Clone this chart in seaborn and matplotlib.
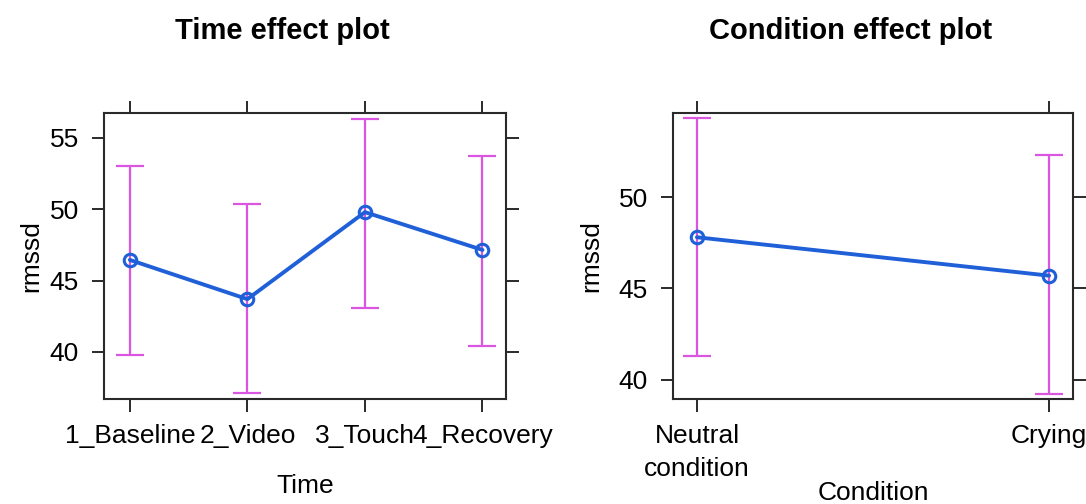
import matplotlib
matplotlib.use("Agg")
import matplotlib.pyplot as plt
import seaborn as sns
import numpy as np
import pandas as pd
from matplotlib import font_manager

# ---------------- data ----------------
times = ["1_Baseline", "2_Video", "3_Touch", "4_Recovery"]
time_fit = [46.45, 43.7, 49.8, 47.15]
time_lower = [39.8, 37.1, 43.1, 40.45]
time_upper = [53.05, 50.4, 56.3, 53.75]

conditions = ["Neutral\ncondition", "Crying"]
cond_fit = [47.8, 45.7]
cond_lower = [41.3, 39.2]
cond_upper = [54.3, 52.3]

time_yticks = [40, 45, 50, 55]
cond_yticks = [40, 45, 50]

# ---------------- style ----------------
sns.set_theme(style="white")
avail = {f.name for f in font_manager.fontManager.ttflist}
fam = ["Liberation Sans Narrow", "Liberation Sans", "DejaVu Sans"]
fam = [f for f in fam if f in avail] or ["DejaVu Sans"]
plt.rcParams["font.family"] = fam
for k in ("text.color", "axes.labelcolor", "xtick.labelcolor", "ytick.labelcolor"):
    plt.rcParams[k] = "black"

LINE = "#1f5fd8"
ERR = "#da55e0"
SPINE = "#2a2a2a"

fig = plt.figure(figsize=(10.86, 5.04), dpi=100)
ax1 = fig.add_axes([104 / 1086, 105 / 504, 402 / 1086, 286 / 504])
ax2 = fig.add_axes([673 / 1086, 105 / 504, 400 / 1086, 286 / 504])


def panel(ax, cats, fit, lo, hi, yticks, xlim, ylim, xlabel, ylabel_x):
    df = pd.DataFrame({"x": cats, "y": fit})
    fit = np.array(fit)
    lo = np.array(lo)
    hi = np.array(hi)
    ax.errorbar(cats, fit, yerr=[fit - lo, hi - fit], fmt="none",
                ecolor=ERR, elinewidth=1.6, capsize=10, capthick=1.6, zorder=2)
    sns.lineplot(data=df, x="x", y="y", ax=ax, color=LINE, linewidth=2.8,
                 marker="o", markersize=9, markerfacecolor="none",
                 markeredgecolor=LINE, markeredgewidth=2.2, sort=False, zorder=3)
    ax.set_xlim(*xlim)
    ax.set_ylim(*ylim)
    ax.set_yticks(yticks)
    ax.set_yticklabels([str(t) for t in yticks])
    ax.set_xlabel(xlabel, fontsize=19, labelpad=19)
    ax.set_ylabel("rmssd", fontsize=19)
    ax.yaxis.set_label_coords(ylabel_x, 0.5)
    ax.tick_params(axis="both", which="both", direction="out", length=9,
                   width=1.4, color=SPINE, labelsize=19, pad=9,
                   top=True, right=True, bottom=True, left=True,
                   labeltop=False, labelright=False)
    for s in ax.spines.values():
        s.set_color(SPINE)
        s.set_linewidth(1.5)
    ax.grid(False)


panel(ax1, times, time_fit, time_lower, time_upper, time_yticks,
      (-0.22, 3.2), (36.7, 56.75), "Time", -0.15)
panel(ax2, conditions, cond_fit, cond_lower, cond_upper, cond_yticks,
      (-0.068, 1.068), (38.95, 54.6), "Condition", -0.175)
ax2.set_xlabel("Condition", fontsize=19, labelpad=0)
for lbl in ax2.get_xticklabels():
    lbl.set_linespacing(1.45)

fig.text(282 / 1086, 1 - 31 / 504, "Time effect plot", ha="center", va="center",
         fontsize=21, fontweight="bold")
fig.text(851 / 1086, 1 - 31 / 504, "Condition effect plot", ha="center", va="center",
         fontsize=21, fontweight="bold")

fig.savefig("out.png", dpi=100, facecolor="white")
